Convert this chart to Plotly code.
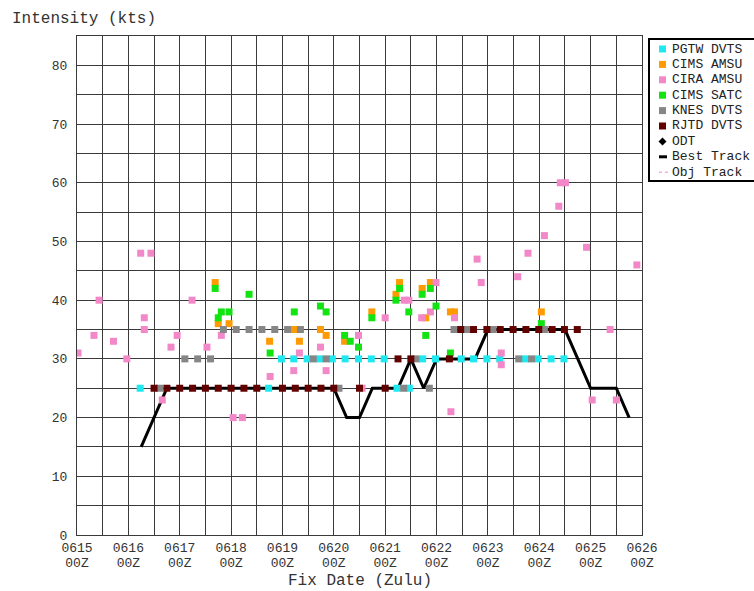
import plotly.graph_objects as go

# ---------------- data (x = day of June, fractional; y = intensity kts) ----------------
pgtw_x = [16.23, 18.73, 18.98, 19.22, 19.48, 19.72, 19.97, 20.22, 20.48, 20.73, 20.98,
          21.23, 21.47, 21.73, 21.98, 22.48, 22.72, 22.98, 23.23, 23.73, 23.98, 24.23, 24.48]
pgtw_y = [25, 25, 30, 30, 30, 30, 30, 30, 30, 30, 30,
          25, 25, 30, 30, 30, 30, 30, 30, 30, 30, 30, 30]

amsu_x = [17.69, 17.75, 17.96, 18.75, 19.22, 19.33, 19.74, 19.85, 20.21, 20.74,
          21.21, 21.28, 21.72, 21.79, 21.88, 22.27, 22.35, 24.04]
amsu_y = [43, 36, 36, 33, 35, 33, 35, 34, 33, 38,
          41, 43, 42, 37, 43, 38, 38, 38]

cira_x = [15.02, 15.33, 15.43, 15.71, 15.97, 16.24, 16.31, 16.31, 16.44, 16.66, 16.83,
          16.95, 17.24, 17.53, 17.81, 18.04, 18.22, 18.76, 19.22, 19.33, 19.74, 19.85,
          20.48, 20.55, 21.00, 21.37, 21.46, 21.71, 21.88, 21.99, 22.28, 22.35, 22.79,
          22.87, 23.26, 23.26, 23.58, 23.78, 24.10, 24.38, 24.41, 24.51, 24.92, 25.03,
          25.38, 25.50, 25.90]
cira_y = [31, 34, 40, 33, 30, 48, 37, 35, 48, 23, 32,
          34, 40, 32, 34, 20, 20, 27, 28, 31, 32, 28,
          34, 25, 37, 40, 40, 37, 38, 43, 21, 37, 47,
          43, 31, 29, 44, 48, 51, 56, 60, 60, 49, 23,
          35, 23, 46]

satc_x = [17.69, 17.75, 17.81, 17.96, 18.35, 18.76, 19.23, 19.74, 19.85, 20.21, 20.32,
          20.48, 20.74, 21.21, 21.28, 21.46, 21.72, 21.79, 21.88, 21.99, 22.27, 24.04]
satc_y = [42, 37, 38, 38, 41, 31, 38, 39, 38, 34, 33,
          32, 37, 40, 42, 38, 41, 34, 42, 39, 31, 36]

knes_x = [16.61, 17.10, 17.35, 17.60, 17.85, 18.10, 18.35, 18.60, 18.85, 19.10, 19.35,
          19.60, 19.85, 20.10, 21.36, 21.60, 21.86, 22.34, 22.59, 23.10, 23.60, 23.85, 24.10]
knes_y = [25, 30, 30, 30, 35, 35, 35, 35, 35, 35, 35,
          30, 30, 25, 25, 30, 25, 35, 35, 35, 30, 30, 35]

rjtd_x = [16.50, 16.75, 17.00, 17.25, 17.50, 17.75, 18.00, 18.25, 18.50, 19.00, 19.25,
          19.50, 19.75, 20.00, 20.50, 21.00, 21.25, 21.50, 22.25, 22.47, 22.72, 22.98,
          23.24, 23.49, 23.74, 23.99, 24.25, 24.49, 24.74]
rjtd_y = [25, 25, 25, 25, 25, 25, 25, 25, 25, 25, 25,
          25, 25, 25, 25, 25, 30, 30, 30, 35, 35, 35,
          35, 35, 35, 35, 35, 35, 35]

odt_x, odt_y = [], []
obj_x, obj_y = [], []

best_x = [16.25, 16.50, 16.75, 17.00, 17.25, 17.50, 17.75, 18.00, 18.25, 18.50, 18.75,
          19.00, 19.25, 19.50, 19.75, 20.00, 20.25, 20.50, 20.75, 21.00, 21.25, 21.50,
          21.75, 22.00, 22.25, 22.50, 22.75, 23.00, 23.25, 23.50, 23.75, 24.00, 24.25,
          24.50, 24.75, 25.00, 25.25, 25.50, 25.75]
best_y = [15, 20, 25, 25, 25, 25, 25, 25, 25, 25, 25,
          25, 25, 25, 25, 25, 20, 20, 25, 25, 25, 30,
          25, 30, 30, 30, 30, 35, 35, 35, 35, 35, 35,
          35, 30, 25, 25, 25, 20]

x_days = list(range(15, 27))
x_ticktext_date = ["06%02d" % d for d in x_days]
x_ticktext_hour = ["00Z" for d in x_days]
y_ticks = list(range(0, 81, 10))

series = [
    ("PGTW DVTS", pgtw_x, pgtw_y, "#1EE8F0"),
    ("CIMS AMSU", amsu_x, amsu_y, "#FF9A00"),
    ("CIRA AMSU", cira_x, cira_y, "#F288C8"),
    ("CIMS SATC", satc_x, satc_y, "#12E412"),
    ("KNES DVTS", knes_x, knes_y, "#868686"),
    ("RJTD DVTS", rjtd_x, rjtd_y, "#620000"),
]

FONT = "Liberation Mono, Courier New, monospace"
GRID = "#3a3a3a"
TXT = "#333333"

fig = go.Figure()
fig.add_trace(go.Scatter(x=best_x, y=best_y, mode="lines", name="Best Track",
                         line=dict(color="black", width=3), showlegend=False))
fig.add_trace(go.Scatter(x=obj_x, y=obj_y, mode="lines", name="Obj Track",
                         line=dict(color="#F288C8", width=1, dash="dot"), showlegend=False))
for name, xs, ys, col in series:
    fig.add_trace(go.Scatter(x=xs, y=ys, mode="markers", name=name,
                             marker=dict(symbol="square", size=7, color=col, line=dict(width=0)),
                             showlegend=False))
# ODT has no fixes; its (empty) trace also carries the second row of date labels
fig.add_trace(go.Scatter(x=odt_x, y=odt_y, mode="markers", name="ODT", xaxis="x2", yaxis="y",
                         marker=dict(symbol="diamond", size=8, color="black"), showlegend=False))

# ---------------- layout ----------------
L, R, T, B = 77, 642, 36, 535
W, H = 754, 591


def px(x):
    return (x - L) / (R - L)


def py(y):
    return (B - y) / (B - T)


fig.update_layout(
    width=W, height=H, autosize=False,
    margin=dict(l=L, r=W - R, t=T, b=H - B, pad=0),
    paper_bgcolor="white", plot_bgcolor="white",
    font=dict(family=FONT, size=13, color=TXT),
    title=dict(text="Intensity (kts)", x=12 / W, xref="container", xanchor="left",
               y=1 - 17 / H, yref="container", yanchor="middle",
               font=dict(family=FONT, size=16, color=TXT)),
    showlegend=False,
    xaxis=dict(range=[15, 26], tickmode="array", tickvals=x_days, ticktext=x_ticktext_date,
               showgrid=True, gridcolor=GRID, gridwidth=1, zeroline=False,
               showline=True, linecolor=GRID, linewidth=1, mirror=True, ticks="",
               ticklabelstandoff=0,
               minor=dict(dtick=0.5, tick0=15, showgrid=True, gridcolor=GRID, gridwidth=1),
               tickfont=dict(family=FONT, size=13, color=TXT)),
    xaxis2=dict(range=[15, 26], overlaying="x", anchor="y", side="bottom",
                tickmode="array", tickvals=x_days, ticktext=x_ticktext_hour,
                showgrid=False, zeroline=False, showline=False, ticks="",
                ticklabelstandoff=18,
                tickfont=dict(family=FONT, size=13, color=TXT)),
    yaxis=dict(range=[0, 85], tickmode="array", tickvals=y_ticks,
               ticktext=[str(v) for v in y_ticks],
               showgrid=True, gridcolor=GRID, gridwidth=1, zeroline=False,
               showline=True, linecolor=GRID, linewidth=1, mirror=True, ticks="",
               ticklabelstandoff=6,
               minor=dict(dtick=5, tick0=0, showgrid=True, gridcolor=GRID, gridwidth=1),
               tickfont=dict(family=FONT, size=13, color=TXT)),
)

fig.add_annotation(text="Fix Date (Zulu)", xref="paper", yref="paper", x=0.5, y=py(581),
                   xanchor="center", yanchor="middle", showarrow=False,
                   font=dict(family=FONT, size=16, color=TXT))

# ---------------- legend (drawn as box + keys + text) ----------------
shapes = []
shapes.append(dict(type="rect", xref="paper", yref="paper", x0=px(649), x1=px(760),
                   y0=py(181), y1=py(39), line=dict(color="black", width=2),
                   fillcolor="white", layer="above"))
row0, dy = 49, 15.4
labels = [s[0] for s in series] + ["ODT", "Best Track", "Obj Track"]
for i, lab in enumerate(labels):
    yc = row0 + dy * i
    if i < len(series):
        col = series[i][3]
        shapes.append(dict(type="rect", xref="paper", yref="paper",
                           x0=px(659), x1=px(666), y0=py(yc + 3.5), y1=py(yc - 3.5),
                           fillcolor=col, line=dict(width=0), layer="above"))
    elif lab == "ODT":
        path = "M %f,%f L %f,%f L %f,%f L %f,%f Z" % (
            px(658.5), py(yc), px(662.5), py(yc - 4), px(666.5), py(yc), px(662.5), py(yc + 4))
        shapes.append(dict(type="path", xref="paper", yref="paper", path=path,
                           fillcolor="black", line=dict(width=0), layer="above"))
    elif lab == "Best Track":
        shapes.append(dict(type="line", xref="paper", yref="paper",
                           x0=px(659), x1=px(667), y0=py(yc), y1=py(yc),
                           line=dict(color="black", width=3), layer="above"))
    else:
        shapes.append(dict(type="line", xref="paper", yref="paper",
                           x0=px(659), x1=px(668), y0=py(yc), y1=py(yc),
                           line=dict(color="#F288C8", width=1, dash="dot"), layer="above"))
    fig.add_annotation(text=lab, xref="paper", yref="paper", x=px(670), y=py(yc),
                       xanchor="left", yanchor="middle", showarrow=False,
                       font=dict(family=FONT, size=13, color="#222222"))
fig.update_layout(shapes=shapes)

fig.write_html("out.html")
